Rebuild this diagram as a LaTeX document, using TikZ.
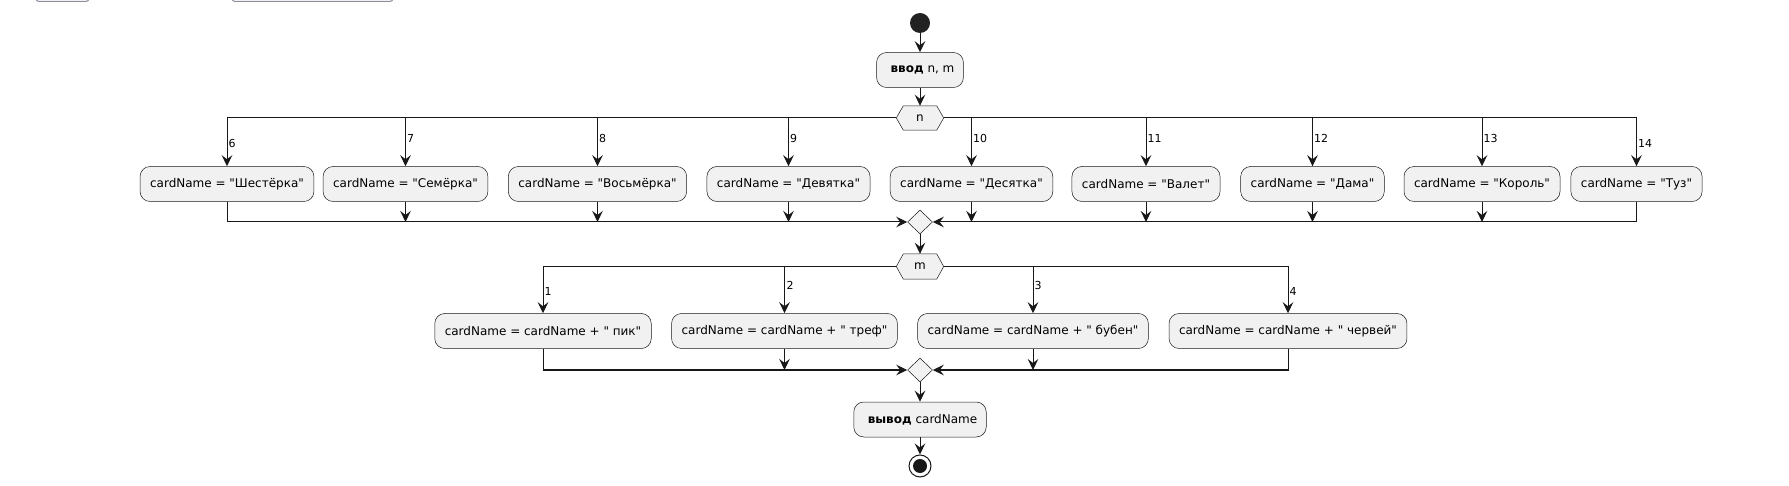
\documentclass[tikz,border=0pt]{standalone}
\usepackage{fontspec}
\setmainfont{DejaVu Sans}[Ligatures=TeXOff]
\usetikzlibrary{arrows.meta,shapes.geometric,calc,backgrounds}
\definecolor{ln}{HTML}{181818}
\definecolor{bx}{HTML}{F1F1F1}
\definecolor{startc}{HTML}{222222}
\definecolor{topbox}{HTML}{8C8C9C}
\begin{document}
\begin{tikzpicture}[x=1pt,y=-1pt,
  act/.style={draw=ln, line width=0.5pt, fill=bx, rounded corners=10pt, minimum height=35pt, inner xsep=10pt, inner ysep=0pt, font=\fontsize{12}{14}\selectfont},
  hexn/.style={minimum width=47pt, minimum height=24pt, inner sep=0pt, font=\fontsize{12}{14}\selectfont},
  hexline/.style={draw=ln, line width=0.5pt, fill=bx},
  merge/.style={diamond, draw=ln, line width=0.5pt, fill=bx, minimum width=25pt, minimum height=24pt, inner sep=0pt},
  arr/.style={draw=ln, line width=1pt, -{Stealth[length=11pt, width=10.5pt, inset=4pt]}},
  lbl/.style={anchor=west, inner sep=0pt, font=\fontsize{11}{13}\selectfont},
]
\useasboundingbox (0,0) rectangle (1789,486);
\begin{scope}
  \clip (0,0) rectangle (1789,486);
  \draw[draw=topbox, fill=white, line width=1pt, rounded corners=3pt] (36,-20) rectangle (89,1.5);
  \draw[draw=topbox, fill=white, line width=1pt, rounded corners=3pt] (232,-20) rectangle (393,1.5);
\end{scope}

% vertical spine
\node[circle, fill=startc, minimum size=20pt, inner sep=0pt] (st) at (920,23) {};
\node[act, inner xsep=9pt] (in) at (920,70) {\hspace{5pt}\textbf{ввод} n, m};
\node[hexn] (hn) at (920,118) {n};
\node[merge] (d1) at (920,222) {};
\node[hexn, minimum height=25pt] (hm) at (920,266.5) {m};
\node[merge] (d2) at (920,370) {};
\node[act, inner xsep=9pt] (out) at (920,419.5) {\hspace{5pt}\textbf{вывод} cardName};
\node[circle, draw=ln, line width=1pt, fill=white, minimum size=22pt, inner sep=0pt,
  path picture={\fill[ln] (path picture bounding box.center) circle (7pt);}] (en) at (920,466) {};

\begin{scope}[on background layer]
  \foreach \h in {hn,hm}{
    \draw[hexline] (\h.west) -- ($(\h.north west)+(7,0)$) -- ($(\h.north east)+(-7,0)$) -- (\h.east)
      -- ($(\h.south east)+(-7,0)$) -- ($(\h.south west)+(7,0)$) -- cycle;
  }
\end{scope}

% first switch
\node[act] (b6)  at (227,184)  {cardName = "Шестёрка"};
\node[act] (b7)  at (405.5,184) {cardName = "Семёрка"};
\node[act] (b8)  at (597.5,184) {cardName = "Восьмёрка"};
\node[act] (b9)  at (788.5,184) {cardName = "Девятка"};
\node[act] (b10) at (971.5,184) {cardName = "Десятка"};
\node[act] (b11) at (1146,184) {cardName = "Валет"};
\node[act] (b12) at (1312.5,184) {cardName = "Дама"};
\node[act] (b13) at (1482,184) {cardName = "Король"};
\node[act] (b14) at (1636.5,184) {cardName = "Туз"};

\node[lbl] (l6)  at (228.5,143) {6};
\node[lbl] (l7)  at (407,138) {7};
\node[lbl] (l8)  at (599,138) {8};
\node[lbl] (l9)  at (790,138) {9};
\node[lbl] (l10) at (973,138) {10};
\node[lbl] (l11) at (1147.5,138) {11};
\node[lbl] (l12) at (1314,138) {12};
\node[lbl] (l13) at (1483.5,138) {13};
\node[lbl] (l14) at (1638,143) {14};

% second switch
\node[act] (r1) at (543,331) {cardName = cardName + " пик"};
\node[act] (r2) at (784.5,331) {cardName = cardName + " треф"};
\node[act] (r3) at (1033,331) {cardName = cardName + " бубен"};
\node[act] (r4) at (1288,331) {cardName = cardName + " червей"};

\node[lbl] (k1) at (544.5,291) {1};
\node[lbl] (k2) at (786.5,285) {2};
\node[lbl] (k3) at (1034.5,285) {3};
\node[lbl] (k4) at (1289.5,291) {4};

% connectors
\draw[arr] (st) -- (in);
\draw[arr] (in) -- (hn);
\draw[arr] (hn.west) -| (b6.north);
\foreach \b in {b7,b8,b9}{ \draw[arr] (\b.north |- hn.west) -- (\b.north); }
\foreach \b in {b10,b11,b12,b13}{ \draw[arr] (\b.north |- hn.east) -- (\b.north); }
\draw[arr] (hn.east) -| (b14.north);
\draw[arr] (b6.south) |- (d1.west);
\draw[arr] (b14.south) |- (d1.east);
\foreach \b in {b7,b8,b9,b10,b11,b12,b13}{ \draw[arr] (\b.south) -- (\b.south |- d1.west); }
\draw[arr] (d1) -- (hm);
\draw[arr] (hm.west) -| (r1.north);
\draw[arr] (r2.north |- hm.west) -- (r2.north);
\draw[arr] (r3.north |- hm.east) -- (r3.north);
\draw[arr] (hm.east) -| (r4.north);
\draw[arr] (r1.south) |- (d2.west);
\draw[arr] (r4.south) |- (d2.east);
\draw[arr] (r2.south) -- (r2.south |- d2.west);
\draw[arr] (r3.south) -- (r3.south |- d2.east);
\draw[arr] (d2) -- (out);
\draw[arr] (out) -- (en);
\end{tikzpicture}
\end{document}
